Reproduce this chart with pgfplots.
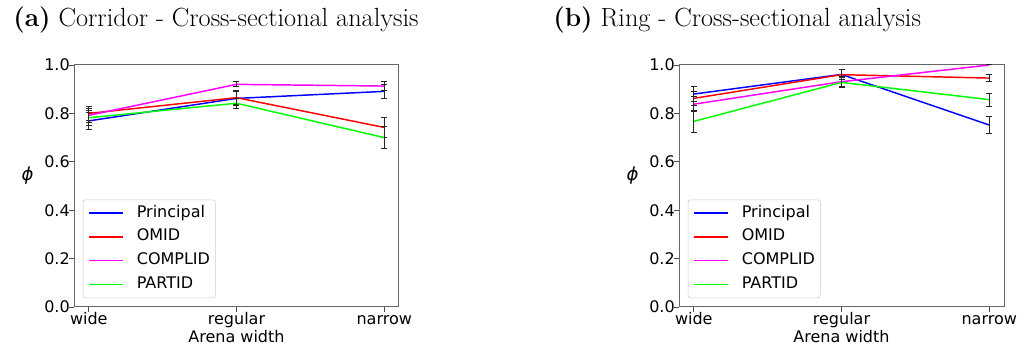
\documentclass[border=0pt]{standalone}
\usepackage{fontspec}
\usepackage{pgfplots}
\pgfplotsset{compat=1.18}
\newfontfamily\dejavu{DejaVu Sans}
\definecolor{pblue}{RGB}{0,0,255}
\definecolor{pred}{RGB}{255,0,0}
\definecolor{pmag}{RGB}{255,0,255}
\definecolor{pgreen}{RGB}{0,255,0}
\pgfplotsset{
  myaxis/.style={
    scale only axis, width=243.75pt, height=181.5pt,
    anchor=south west,
    xmin=-0.1, xmax=2.1, ymin=0, ymax=1,
    xtick={0,1,2}, xticklabels={wide,regular,narrow},
    ytick={0,0.2,0.4,0.6,0.8,1.0},
    /pgf/number format/assume math mode=true,
    tick label style={font=\dejavu\fontsize{12}{14}\selectfont},
    xticklabel style={anchor=base, yshift=-9.75pt, inner sep=0pt},
    yticklabel style={anchor=east, inner sep=0pt, xshift=0.75pt,
      /pgf/number format/fixed, /pgf/number format/fixed zerofill, /pgf/number format/precision=1},
    tick align=outside, tick pos=left, major tick length=3.75pt,
    every tick/.style={black!70, line width=0.6pt},
    axis line style={black!60, line width=0.75pt},
    xlabel={Arena width},
    every axis x label/.style={at={(axis description cs:0.5,0)}, anchor=base, yshift=-27pt,
      font=\dejavu\fontsize{12}{14}\selectfont},
    ylabel={ϕ},
    every axis y label/.style={at={(axis description cs:-0.143,0.545)}, anchor=center,
      font=\dejavu\itshape\fontsize{13.5}{15}\selectfont},
    legend style={at={(0.027,0.037)}, anchor=south west, draw=black!20, rounded corners=2pt,
      fill=white, font=\dejavu\fontsize{12}{14}\selectfont, inner xsep=4pt, inner ysep=4.3pt,
      row sep=6.3pt,
      nodes={inner sep=0pt, text height=8.8pt, text depth=2.7pt}},
    legend cell align=left,
    legend image code/.code={\draw[mark=none,#1] plot coordinates {(0pt,0pt) (25.5pt,0pt)};},
  },
  eb/.style={line width=1.1pt, mark=none,
      error bars/y dir=both, error bars/y explicit,
      error bars/error bar style={black!85, line width=0.75pt},
      error bars/error mark options={rotate=90, mark size=2.25pt, black!85, line width=0.75pt}},
}
\newcommand{\legent}[1]{\addlegendentry{\hspace*{9.75pt}#1}}
\begin{document}
\begin{tikzpicture}
\path[use as bounding box] (0,0) rectangle (774.75pt,262.5pt);
\node[anchor=base west, inner sep=0pt, font=\fontsize{19.7}{23}\selectfont] at (9.75pt,242.25pt) {\textbf{(a)} Corridor - Cross-sectional analysis};
\node[anchor=base west, inner sep=0pt, font=\fontsize{19.7}{23}\selectfont] at (414.75pt,242.25pt) {\textbf{(b)} Ring - Cross-sectional analysis};
\begin{axis}[myaxis, at={(55.5pt,32.25pt)}]
\addplot[eb, color=pblue] coordinates {(0,0.769) +- (0,0.035) (1,0.862) +- (0,0.03) (2,0.891) +- (0,0.03)};
\legent{Principal}
\addplot[eb, color=pred] coordinates {(0,0.800) +- (0,0.03) (1,0.865) +- (0,0.03) (2,0.742) +- (0,0.04)};
\legent{OMID}
\addplot[eb, color=pmag] coordinates {(0,0.792) +- (0,0.03) (1,0.920) +- (0,0.01) (2,0.913) +- (0,0.02)};
\legent{COMPLID}
\addplot[eb, color=pgreen] coordinates {(0,0.782) +- (0,0.03) (1,0.842) +- (0,0.02) (2,0.700) +- (0,0.045)};
\legent{PARTID}
\end{axis}
\begin{axis}[myaxis, at={(509.25pt,32.25pt)}]
\addplot[eb, color=pblue] coordinates {(0,0.880) +- (0,0.03) (1,0.961) +- (0,0.02) (2,0.752) +- (0,0.036)};
\legent{Principal}
\addplot[eb, color=pred] coordinates {(0,0.862) +- (0,0.03) (1,0.960) +- (0,0.02) (2,0.946) +- (0,0.015)};
\legent{OMID}
\addplot[eb, color=pmag] coordinates {(0,0.838) +- (0,0.03) (1,0.931) +- (0,0.02) (2,1.000) +- (0,0.0)};
\legent{COMPLID}
\addplot[eb, color=pgreen] coordinates {(0,0.767) +- (0,0.045) (1,0.928) +- (0,0.02) (2,0.857) +- (0,0.027)};
\legent{PARTID}
\end{axis}
\end{tikzpicture}
\end{document}
